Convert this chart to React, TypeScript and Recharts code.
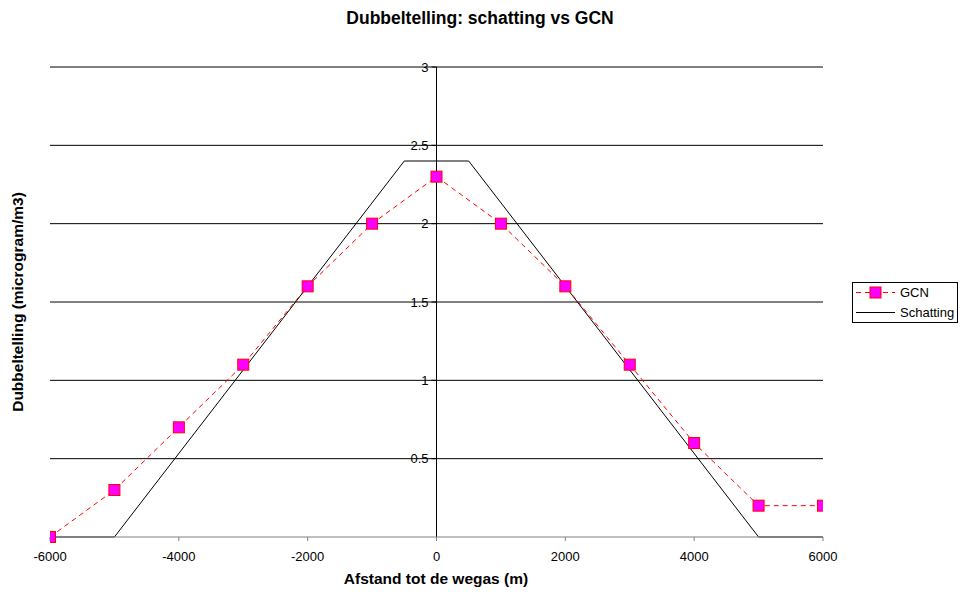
import React from "react";
import {
  LineChart,
  Line,
  XAxis,
  YAxis,
  ReferenceLine,
  ReferenceDot,
} from "recharts";

const gcnX = [-6000, -5000, -4000, -3000, -2000, -1000, 0, 1000, 2000, 3000, 4000, 5000, 6000];
const gcnY = [0, 0.3, 0.7, 1.1, 1.6, 2.0, 2.3, 2.0, 1.6, 1.1, 0.6, 0.2, 0.2];
const schX = [-6000, -5000, -500, 500, 5000, 6000];
const schY = [0, 0, 2.4, 2.4, 0, 0];
const xTicks = [-6000, -4000, -2000, 0, 2000, 4000, 6000];
const yTicks = [0.5, 1, 1.5, 2, 2.5, 3];
const yLabels = ["0.5", "1", "1.5", "2", "2.5", "3"];
const seriesNames = ["GCN", "Schatting"];

const gcnData = gcnX.map((x, i) => ({ x, y: gcnY[i] }));
const schData = schX.map((x, i) => ({ x, y: schY[i] }));

const FONT = "'Liberation Sans', Arial, sans-serif";

const SquareDot = (props: any) => {
  const { cx, cy } = props;
  if (cx == null || cy == null) return null;
  return (
    <rect x={cx - 5.5} y={cy - 5.5} width={11} height={11} fill="#FF00FF" stroke="#FF0000" strokeWidth={1} />
  );
};

const LegendBox = () => (
  <svg width={106} height={41} style={{ position: "absolute", left: 852, top: 282, display: "block" }}>
    <rect x={0.5} y={0.5} width={105} height={40} fill="#fff" stroke="#000" strokeWidth={1} />
    <line x1={4} y1={10.5} x2={43} y2={10.5} stroke="#FF0000" strokeDasharray="5 4" strokeWidth={1} />
    <rect x={18} y={5} width={11} height={11} fill="#FF00FF" stroke="#FF0000" />
    <text x={48} y={10.5} dy="0.35em" fontSize={13} fontFamily={FONT} fill="#000">{seriesNames[0]}</text>
    <line x1={4} y1={30.5} x2={43} y2={30.5} stroke="#000" strokeWidth={1} />
    <text x={48} y={30.5} dy="0.35em" fontSize={13} fontFamily={FONT} fill="#000">{seriesNames[1]}</text>
  </svg>
);

export default function App() {
  return (
    <div style={{ position: "absolute", left: 0, top: 0, width: 961, height: 592, background: "#fff", fontFamily: FONT }}>
      <LineChart
        width={961}
        height={592}
        margin={{ top: 67, right: 138, bottom: 15, left: 50 }}
      >
        <XAxis
          type="number"
          dataKey="x"
          domain={[-6000, 6000]}
          ticks={xTicks}
          allowDataOverflow
          height={40}
          axisLine={{ stroke: "#808080" }}
          tickLine={{ stroke: "#808080" }}
          tickSize={4}
          tickMargin={11}
          tick={{ fill: "#000", fontSize: 13, fontFamily: FONT }}
          interval={0}
        />
        <YAxis type="number" domain={[0, 3]} hide />
        {yTicks.map((v) => (
          <ReferenceLine key={"g" + v} y={v} stroke="#000" strokeWidth={1} />
        ))}
        <ReferenceLine x={0} stroke="#000" strokeWidth={1} />
        {yTicks.map((v, i) => (
          <ReferenceDot
            key={"t" + v}
            x={0}
            y={v}
            r={0}
            shape={(p: any) => (
              <g>
                <line x1={p.cx - 5} y1={p.cy} x2={p.cx} y2={p.cy} stroke="#000" />
                <text
                  x={p.cx - 8}
                  y={p.cy}
                  dy="0.35em"
                  textAnchor="end"
                  fontSize={13}
                  fontFamily={FONT}
                  fill="#000"
                >
                  {yLabels[i]}
                </text>
              </g>
            )}
          />
        ))}
        <Line
          data={schData}
          dataKey="y"
          name={seriesNames[1]}
          type="linear"
          stroke="#000"
          strokeWidth={1}
          dot={false}
          activeDot={false}
          isAnimationActive={false}
        />
        <Line
          data={gcnData}
          dataKey="y"
          name={seriesNames[0]}
          type="linear"
          stroke="#FF0000"
          strokeWidth={1}
          strokeDasharray="5 4"
          dot={<SquareDot />}
          activeDot={false}
          isAnimationActive={false}
        />
      </LineChart>
      <LegendBox />
      <div
        style={{
          position: "absolute",
          left: 480,
          top: 18,
          transform: "translate(-50%, -50%)",
          fontSize: 17.5,
          fontWeight: "bold",
          whiteSpace: "nowrap",
          lineHeight: "20px",
        }}
      >
        Dubbeltelling: schatting vs GCN
      </div>
      <div
        style={{
          position: "absolute",
          left: 436,
          top: 579,
          transform: "translate(-50%, -50%)",
          fontSize: 15.5,
          fontWeight: "bold",
          whiteSpace: "nowrap",
          lineHeight: "18px",
        }}
      >
        Afstand tot de wegas (m)
      </div>
      <div
        style={{
          position: "absolute",
          left: 18,
          top: 302,
          transform: "translate(-50%, -50%) rotate(-90deg)",
          fontSize: 15.5,
          fontWeight: "bold",
          whiteSpace: "nowrap",
          lineHeight: "18px",
        }}
      >
        Dubbeltelling (microgram/m3)
      </div>
    </div>
  );
}
